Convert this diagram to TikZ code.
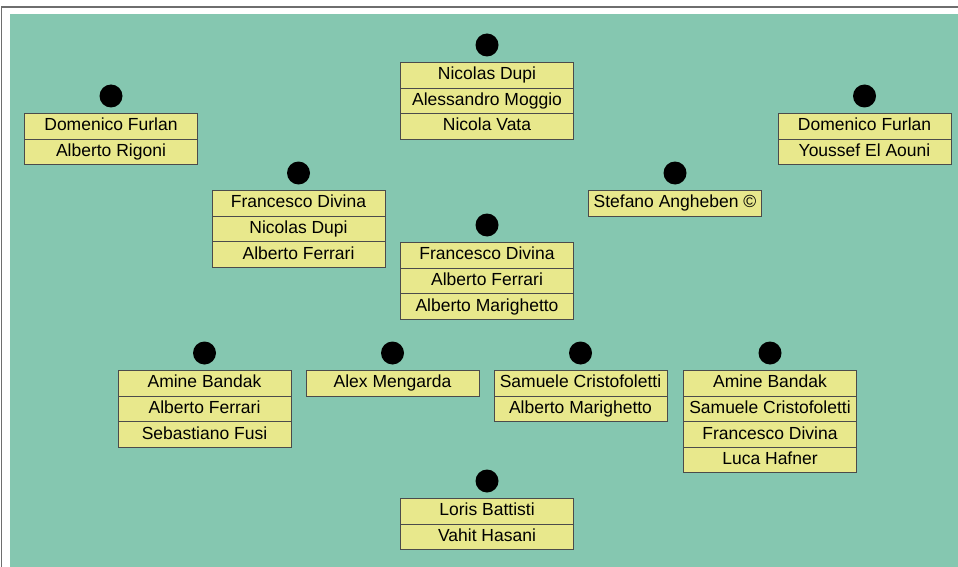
\documentclass[tikz,border=0pt]{standalone}
\usepackage{fontspec}
\setmainfont{Liberation Sans}
\usepackage{tikz}
\definecolor{pitchgreen}{RGB}{133,199,176}
\definecolor{namefill}{RGB}{232,232,140}
\definecolor{nameline}{RGB}{75,75,75}
\definecolor{framegray}{RGB}{110,110,110}

\tikzset{
    namebox/.style={draw=nameline, fill=namefill, line width=1pt, anchor=north,
        minimum width=173pt, minimum height=25.6pt, inner sep=0pt,
        text height=12.5pt, text depth=3.5pt,
        font=\fontsize{17.5}{17.5}\selectfont},
    marker/.style={circle, fill=black, minimum size=23pt, inner sep=0pt}
}

% one position: dot above a stack of names
\newcommand{\squad}[4]{%
    \node[marker] (#1) at (#2,#3-17) {};
    \foreach \player [count=\k] in {#4} {
        \node[namebox] (#1-\k) at (#2,#3+\k*25.6-25.6) {\player};
    }
}

\begin{document}
\begin{tikzpicture}[x=1pt,y=-1pt]
    \useasboundingbox (0,0) rectangle (958,567);

    % frame and pitch
    \draw[framegray, line width=1.5pt] (1.5,567) -- (1.5,7) -- (958,7);
    \fill[pitchgreen] (10,14) rectangle (958,567);

    % goalkeepers
    \squad{gk}{487}{62}{Nicolas Dupi, Alessandro Moggio, Nicola Vata}

    % wide backs
    \squad{lb}{111}{113}{Domenico Furlan, Alberto Rigoni}
    \squad{rb}{864.5}{113}{Domenico Furlan, Youssef El Aouni}

    % centre backs
    \squad{lcb}{298.5}{190}{Francesco Divina, Nicolas Dupi, Alberto Ferrari}
    \squad{rcb}{675}{190}{Stefano Angheben ©}

    % holding midfield
    \squad{dm}{487}{242}{Francesco Divina, Alberto Ferrari, Alberto Marighetto}

    % midfield line
    \squad{lm}{204.5}{370}{Amine Bandak, Alberto Ferrari, Sebastiano Fusi}
    \squad{lcm}{392.5}{370}{Alex Mengarda}
    \squad{rcm}{580.5}{370}{Samuele Cristofoletti, Alberto Marighetto}
    \squad{rm}{770}{370}{Amine Bandak, Samuele Cristofoletti, Francesco Divina, Luca Hafner}

    % striker
    \squad{st}{487}{498}{Loris Battisti, Vahit Hasani}
\end{tikzpicture}
\end{document}
